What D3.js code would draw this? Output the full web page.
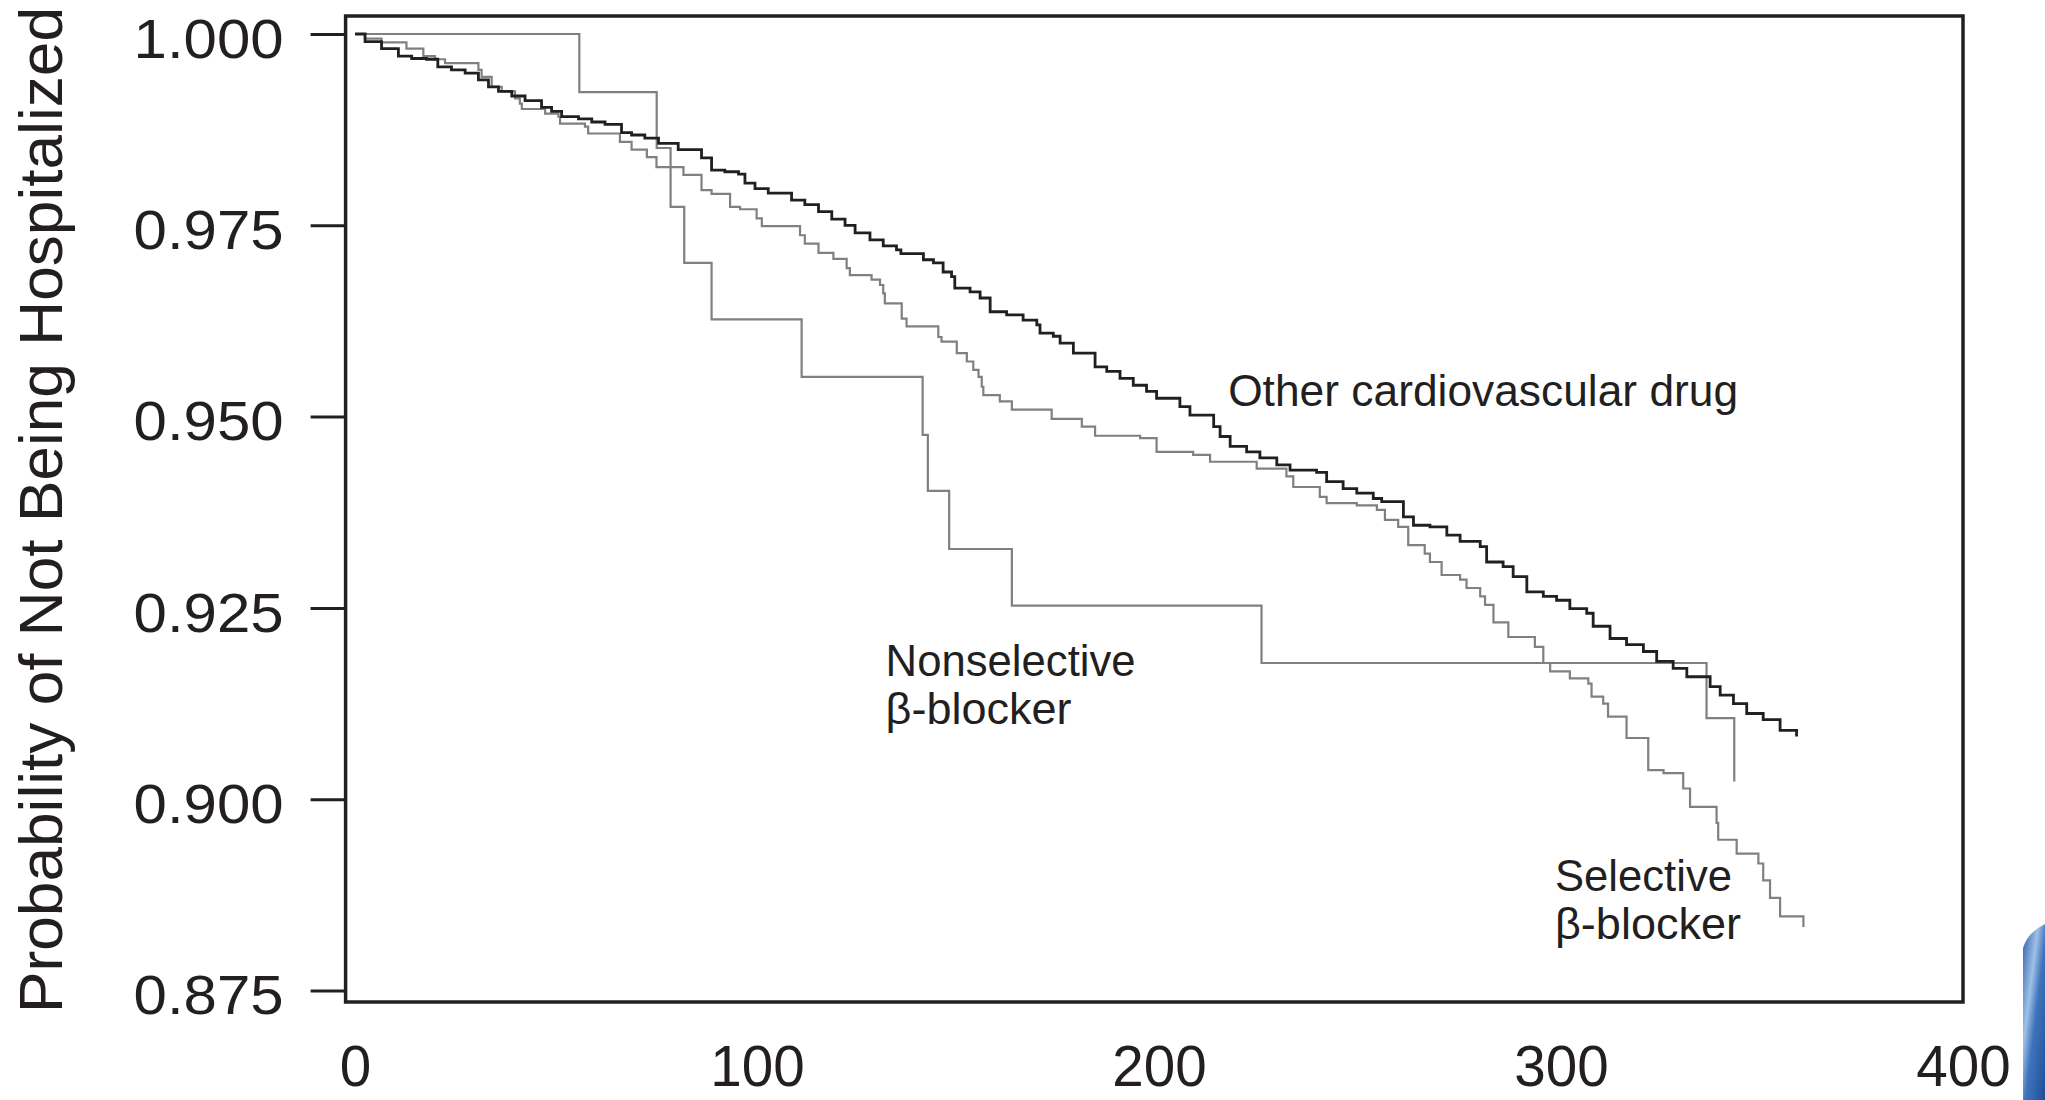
<!DOCTYPE html>
<html><head><meta charset="utf-8">
<script src="https://cdn.jsdelivr.net/npm/d3@7"></script>
<style>
html,body{margin:0;padding:0;background:#fff;}
svg{display:block;}
text{font-family:"Liberation Sans",Arial,Helvetica,sans-serif;fill:#231f20;}
</style></head><body>
<svg id="chart" width="2045" height="1100"></svg>
<script>
// ---------- data ----------
const yTickValues = [1.000, 0.975, 0.950, 0.925, 0.900, 0.875];
const xTickValues = [0, 100, 200, 300, 400];
const yTitle = "Probability of Not Being Hospitalized";
const seriesNames = ["Other cardiovascular drug", "Nonselective", "Selective"];

// Other cardiovascular drug (Kaplan-Meier, step after)
const otherDays = [0,2.5,6.6,10.8,14.1,17.8,20.6,24.0,27.4,30.7,33.2,35.7,39.0,42.3,46.4,48.9,51.4,55.6,58.9,62.2,66.3,68.8,72.1,75.5,80.4,86.2,88.7,92.0,95.4,97.0,99.5,102.8,108.6,111.9,115.3,118.6,121.9,124.4,128.1,131.4,134.7,135.8,141.4,143.9,146.3,148.4,149.2,153.0,155.5,158.0,162.1,166.2,169.6,170.4,173.7,175.4,178.7,184.1,187.0,190.3,193.6,196.9,199.4,205.2,207.7,213.6,215.2,217.7,221.8,225.1,229.3,232.6,239.2,241.7,245.8,249.2,253.3,255.4,260.8,263.3,267.4,271.6,274.9,279.9,281.5,285.6,288.1,291.5,295.6,298.9,302.2,306.4,308.0,312.2,316.3,320.5,323.8,327.9,331.3,337.1,339.6,342.9,346.2,350.3,354.5,358.6];
const otherValues = [1.0000,0.9990,0.9981,0.9971,0.9968,0.9967,0.9957,0.9953,0.9949,0.9940,0.9931,0.9925,0.9919,0.9913,0.9904,0.9899,0.9892,0.9889,0.9885,0.9882,0.9871,0.9868,0.9864,0.9857,0.9849,0.9838,0.9822,0.9820,0.9817,0.9805,0.9798,0.9792,0.9783,0.9777,0.9768,0.9758,0.9750,0.9740,0.9731,0.9723,0.9718,0.9713,0.9705,0.9701,0.9689,0.9683,0.9668,0.9663,0.9655,0.9637,0.9633,0.9626,0.9620,0.9609,0.9605,0.9596,0.9583,0.9565,0.9559,0.9550,0.9541,0.9533,0.9524,0.9513,0.9502,0.9487,0.9474,0.9461,0.9454,0.9446,0.9437,0.9430,0.9427,0.9415,0.9406,0.9400,0.9393,0.9389,0.9369,0.9358,0.9356,0.9345,0.9337,0.9330,0.9310,0.9304,0.9291,0.9271,0.9265,0.9260,0.9249,0.9243,0.9226,0.9210,0.9202,0.9193,0.9180,0.9171,0.9160,0.9147,0.9136,0.9125,0.9112,0.9104,0.9090,0.9082];

// Selective beta-blocker
const selectiveDays = [0,2.5,6.6,12.8,17.0,19.9,22.4,30.7,31.5,34.0,36.5,39.8,41.0,41.5,47.3,50.6,51.0,57.2,58.0,65.9,68.8,72.6,75.0,81.7,86.2,88.7,93.3,95.8,99.9,101.2,110.7,111.9,115.3,119.0,122.3,123.1,128.5,130.6,131.4,131.8,136.0,137.2,145.1,145.9,149.7,152.2,153.8,155.1,155.9,156.3,160.4,163.4,173.3,180.8,184.1,195.3,199.4,208.5,212.7,224.3,231.7,233.4,240.0,241.7,249.2,254.2,256.2,259.5,262.0,266.1,267.4,270.3,274.9,276.5,279.9,281.1,283.2,286.9,293.5,295.6,297.3,302.2,306.8,307.6,310.5,311.7,316.3,321.7,325.5,330.4,332.1,338.7,339.1,343.7,349.1,350.3,352.0,354.5,360.3];
const selectiveValues = [1.0000,0.9994,0.9989,0.9981,0.9971,0.9967,0.9962,0.9953,0.9944,0.9931,0.9925,0.9916,0.9909,0.9902,0.9896,0.9892,0.9883,0.9879,0.9870,0.9859,0.9849,0.9839,0.9826,0.9816,0.9796,0.9791,0.9774,0.9771,0.9759,0.9749,0.9737,0.9726,0.9714,0.9706,0.9694,0.9685,0.9679,0.9672,0.9661,0.9648,0.9628,0.9618,0.9604,0.9598,0.9583,0.9572,0.9561,0.9552,0.9539,0.9528,0.9520,0.9509,0.9497,0.9487,0.9475,0.9472,0.9454,0.9450,0.9441,0.9432,0.9422,0.9408,0.9395,0.9387,0.9384,0.9378,0.9365,0.9356,0.9332,0.9321,0.9310,0.9293,0.9287,0.9276,0.9265,0.9254,0.9231,0.9212,0.9199,0.9178,0.9167,0.9158,0.9151,0.9134,0.9125,0.9108,0.9080,0.9038,0.9034,0.9014,0.8990,0.8969,0.8947,0.8929,0.8916,0.8894,0.8871,0.8847,0.8833];

// Nonselective beta-blocker
const nonselectiveDays = [0,55.8,75.05,78.5,81.9,88.7,111.1,141.2,142.5,147.8,163.4,225.5,336.2,343.1];
const nonselectiveValues = [1.0000,0.9924,0.9851,0.9774,0.9701,0.9627,0.9552,0.9476,0.9403,0.9327,0.9253,0.9178,0.9106,0.9023];

// annotation text (lines) and anchor in data units
const annOther = {lines:["Other cardiovascular drug"], day:217.2, value:0.9514};
const annNonsel = {lines:["Nonselective","β-blocker"], day:132.0, value:0.9161};
const annSel = {lines:["Selective","β-blocker"], day:298.5, value:0.8880};

// ---------- drawing ----------
const svg = d3.select("#chart");
const ink = "#231f20";
const box = {left:345.6, right:1963, top:16, bottom:1002};

const x = d3.scaleLinear().domain([0,400]).range([355,1963]);
const y = d3.scaleLinear().domain([0.875,1.0]).range([990.5,34]);

// decorative corner (slide background fragment)
const defs = svg.append("defs");
const grad = defs.append("linearGradient").attr("id","blueg").attr("x1","0").attr("y1","0").attr("x2","1").attr("y2","1");
grad.append("stop").attr("offset","0%").attr("stop-color","#2b5fa8");
grad.append("stop").attr("offset","35%").attr("stop-color","#9fc0e6");
grad.append("stop").attr("offset","55%").attr("stop-color","#3f74bb");
grad.append("stop").attr("offset","100%").attr("stop-color","#1d4f98");
svg.append("path").attr("d","M2023,1100 L2023,948 Q2028,932 2045,924 L2045,1100 Z").attr("fill","url(#blueg)");

// box
svg.append("rect").attr("x",box.left).attr("y",box.top)
  .attr("width",box.right-box.left).attr("height",box.bottom-box.top)
  .attr("fill","none").attr("stroke",ink).attr("stroke-width",3.5);

// y axis
const yAxis = svg.append("g").attr("transform",`translate(${box.left},0)`)
  .call(d3.axisLeft(y).tickValues(yTickValues).tickFormat(d3.format(".3f")).tickSize(35).tickPadding(27));
yAxis.select(".domain").remove();
yAxis.selectAll(".tick line").attr("stroke",ink).attr("stroke-width",3);
yAxis.selectAll(".tick text").attr("font-size",55).attr("font-family","Liberation Sans, Arial, sans-serif")
  .attr("fill",ink).attr("dy","0.42em").attr("textLength",150).attr("lengthAdjust","spacingAndGlyphs");

// x axis (labels only)
const xAxis = svg.append("g").attr("transform",`translate(0,${box.bottom})`)
  .call(d3.axisBottom(x).tickValues(xTickValues).tickFormat(d3.format("d")).tickSize(0).tickPadding(44));
xAxis.select(".domain").remove();
xAxis.selectAll(".tick line").remove();
xAxis.selectAll(".tick text").attr("font-size",57).attr("font-family","Liberation Sans, Arial, sans-serif")
  .attr("fill",ink).attr("dy","0.71em")
  .attr("textLength",d=>String(d).length*31.5).attr("lengthAdjust","spacingAndGlyphs");

// y title
svg.append("text").attr("transform","translate(62,510) rotate(-90)")
  .attr("text-anchor","middle").attr("font-size",61)
  .attr("textLength",1006).attr("lengthAdjust","spacingAndGlyphs")
  .text(yTitle);

// curves
const line = d3.line().x(d=>x(d[0])).y(d=>y(d[1])).curve(d3.curveStepAfter);
const gray = "#808080";
svg.append("path").datum(d3.zip(nonselectiveDays,nonselectiveValues)).attr("d",line)
  .attr("fill","none").attr("stroke",gray).attr("stroke-width",2.2);
svg.append("path").datum(d3.zip(selectiveDays,selectiveValues)).attr("d",line)
  .attr("fill","none").attr("stroke",gray).attr("stroke-width",2.2);
svg.append("path").datum(d3.zip(otherDays,otherValues)).attr("d",line)
  .attr("fill","none").attr("stroke",ink).attr("stroke-width",2.8);

// annotations
function annotate(a, widths){
  const t = svg.append("text").attr("font-size",43.5).attr("fill",ink);
  a.lines.forEach((s,i)=>{
    const ts = t.append("tspan").attr("x",x(a.day)).attr("y",y(a.value)+i*48).text(s);
    if (widths && widths[i]) ts.attr("textLength",widths[i]).attr("lengthAdjust","spacingAndGlyphs");
  });
}
annotate(annOther,[510]);
annotate(annNonsel,[250,186]);
annotate(annSel,[177,186]);
</script>
</body></html>
